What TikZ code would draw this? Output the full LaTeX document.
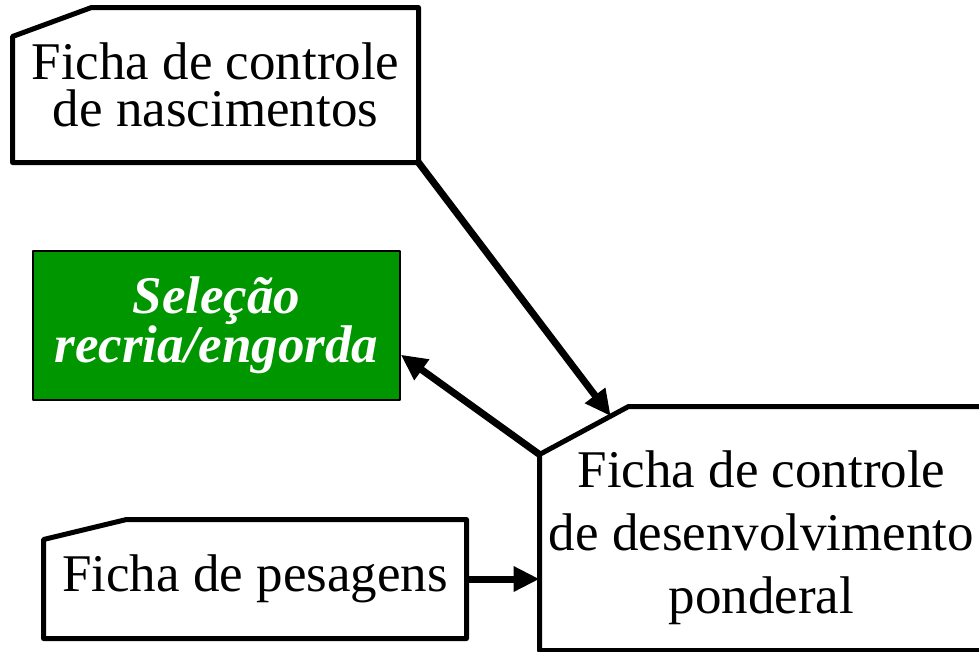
\documentclass[tikz,border=0pt]{standalone}
\usepackage{fontspec}
\setmainfont{Liberation Serif}
\usetikzlibrary{calc,arrows.meta}
\definecolor{fichagreen}{RGB}{0,150,0}

\begin{document}
\begin{tikzpicture}[x=1pt,y=-1pt,line join=round,>={Triangle[length=26pt,width=24pt]},->,line width=7pt]
		\tikzstyle{ficha}   = [rectangle,inner sep=0pt,align=center,font=\fontsize{53}{47}\selectfont]
		\tikzstyle{selecao} = [rectangle,draw=black,line width=1.5pt,fill=fichagreen,text=white,inner sep=0pt,align=center,font=\fontsize{53}{47}\selectfont\bfseries\itshape]
		
		\useasboundingbox (0,0) rectangle (979,651);
		
		\node[ficha,minimum width=399pt,minimum height=148pt] (nasc) at (215.5,85) {Ficha de controle\\de nascimentos};
		\node[selecao,minimum width=367pt,minimum height=149pt] (sel) at (216.5,325.5) {Seleção\\recria/engorda};
		\node[ficha,minimum width=416pt,minimum height=112pt] (pesag) at (255,579) {Ficha de pesagens};
		\node[ficha,minimum width=437pt,minimum height=237pt,font=\fontsize{53}{63}\selectfont] (pond) at (761.5,528.5) {\rule{0pt}{56pt}Ficha de controle\\de desenvolvimento\\ponderal};
		
		% fichas com canto cortado
		\foreach \n/\cx/\cy in {nasc/79/29,pesag/83/20,pond/89/48}
			\draw[-,line width=5pt] ([xshift=\cx pt]\n.north west) -- (\n.north east) -- (\n.south east)
				-- (\n.south west) -- ([yshift=-\cy pt]\n.north west) -- cycle;
		
		\coordinate (pondcut) at ([yshift=-48pt]pond.north west);
		\coordinate (pondin)  at ($([xshift=89pt]pond.north west)!0.2!(pondcut)$);
		
		\path (nasc.south east) edge (pondin);
		\path (pondcut)         edge (sel.-9);
		\path (pesag.east)      edge (pesag.east -| pond.west);
	\end{tikzpicture}
\end{document}
